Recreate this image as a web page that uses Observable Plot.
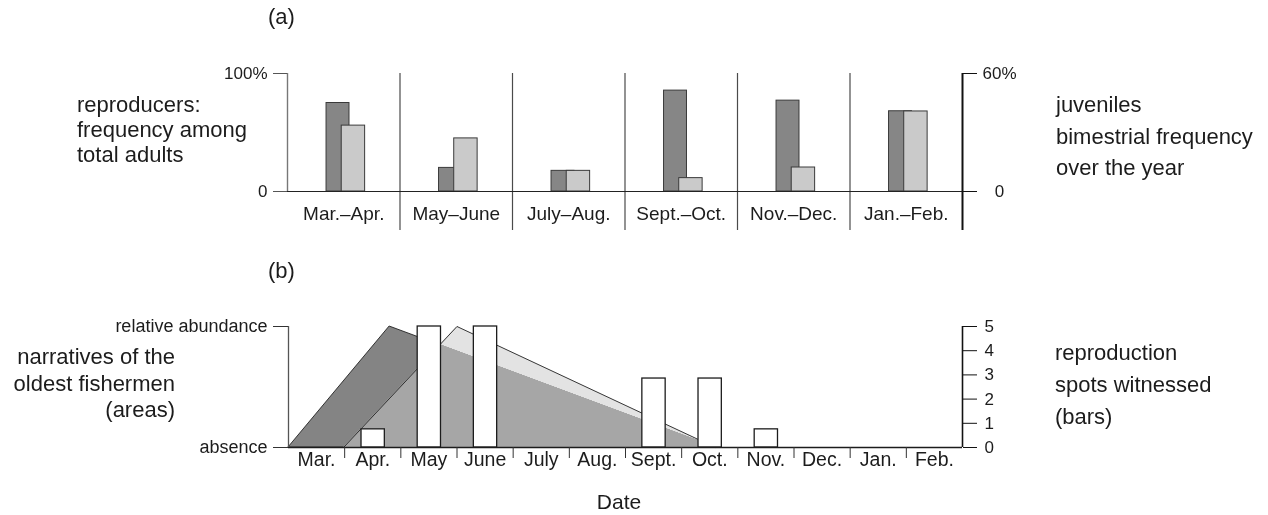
<!DOCTYPE html>
<html>
<head>
<meta charset="utf-8">
<script src="https://cdn.jsdelivr.net/npm/d3@7"></script>
<script src="https://cdn.jsdelivr.net/npm/@observablehq/plot@0.6"></script>
<style>
  html, body { margin: 0; padding: 0; background: #fff; }
  #fig { position: relative; width: 1268px; height: 515px; overflow: hidden;
         font-family: "Liberation Sans", Arial, Helvetica, sans-serif; color: #1c1c1c; }
  #fig svg { position: absolute; left: 0; overflow: visible; }
  .lbl { position: absolute; white-space: nowrap; font-size: 22px; }
</style>
</head>
<body>
<div id="fig">
  <div class="lbl" style="left:268px; top:6px; line-height:22px;">(a)</div>
  <div class="lbl" style="left:77px; top:92px; line-height:25px;">reproducers:<br>frequency among<br>total adults</div>
  <div class="lbl" style="left:1056px; top:89px; line-height:31.5px;">juveniles<br>bimestrial frequency<br>over the year</div>

  <div class="lbl" style="left:268px; top:260px; line-height:22px;">(b)</div>
  <div class="lbl" style="right:1093px; top:344px; line-height:26.5px; text-align:right;">narratives of the<br>oldest fishermen<br>(areas)</div>
  <div class="lbl" style="left:1055px; top:337px; line-height:32px;">reproduction<br>spots witnessed<br>(bars)</div>

  <div class="lbl" style="left:619px; top:491px; line-height:21px; font-size:21px; transform:translateX(-50%);">Date</div>
</div>

<script>
// ---- Panel (a): two-month periods ----
const periods = ["Mar.–Apr.", "May–June", "July–Aug.", "Sept.–Oct.", "Nov.–Dec.", "Jan.–Feb."];
// reproducers, % of total adults (left axis, 0–100%)
const reproducers = [75, 20, 17.5, 85.5, 77, 68];
// juveniles, bimestrial % over the year (right axis, 0–60%)
const juveniles = [33.5, 27, 10.5, 6.8, 12.2, 40.7];
const leftTicksA = [0, 100];
const leftTickLabelsA = ["0", "100%"];
const rightTicksA = [0, 60];
const rightTickLabelsA = ["0", "60%"];

// ---- Panel (b): months ----
const months = ["Mar.", "Apr.", "May", "June", "July", "Aug.", "Sept.", "Oct.", "Nov.", "Dec.", "Jan.", "Feb."];
// reproduction spots witnessed per month (bars)
const spots = [0, 0.75, 5, 5, 0, 0, 2.85, 2.85, 0.75, 0, 0, 0];
// fishermen narratives: time in months since 1 March, relative abundance (0 = absence, 1 = relative abundance)
const narrativeEarlyT = [0, 1.8, 7.6];
const narrativeEarlyA = [0, 1, 0];
const narrativeLateT = [0.98, 3.0, 7.6];
const narrativeLateA = [0, 1, 0];
const abundanceTicks = [0, 1];
const abundanceTickLabels = ["absence", "relative abundance"];
const spotTicks = [0, 1, 2, 3, 4, 5];

const font = `"Liberation Sans", Arial, Helvetica, sans-serif`;
const fig = document.getElementById("fig");

// ---------- panel (a) ----------
const juvToLeft = 100 / rightTicksA[1];          // juvenile % drawn on the left 0–100 scale
const dataA = periods.map((p, i) => ({p, i, r: reproducers[i], j: juveniles[i] * juvToLeft}));

const plotA = Plot.plot({
  width: 1268, height: 240,
  marginLeft: 287, marginRight: 306, marginTop: 73, marginBottom: 10,
  x: {domain: [0, periods.length], axis: null},
  y: {domain: [0, 100], range: [191, 73], axis: null},
  style: {fontFamily: font, fontSize: "17px", color: "#1c1c1c", background: "transparent"},
  marks: [
    // period separators
    Plot.ruleX(d3.range(1, periods.length), {stroke: "#4a4a4a", strokeWidth: 1.2}),
    // reproducers (dark) then juveniles (light), slightly overlapping
    Plot.rectY(dataA, {x1: d => d.i + 0.347, x2: d => d.i + 0.551, y1: 0, y2: "r",
      fill: "#868686", stroke: "#3a3a3a", strokeWidth: 1}),
    Plot.rectY(dataA, {x1: d => d.i + 0.482, x2: d => d.i + 0.69, y1: 0, y2: "j",
      fill: "#cacaca", stroke: "#3a3a3a", strokeWidth: 1}),
    // baseline
    Plot.ruleY([0], {stroke: "#222", strokeWidth: 1.2}),
    // left axis
    Plot.ruleX([0], {y1: 0, y2: 100, stroke: "#777", strokeWidth: 1.4}),
    Plot.axisY({anchor: "left", label: null, ticks: leftTicksA, tickSize: 14, tickPadding: 6, stroke: "#555",
      fontSize: 17, tickFormat: d => leftTickLabelsA[leftTicksA.indexOf(d)]}),
    // right axis
    Plot.ruleX([periods.length], {stroke: "#111", strokeWidth: 2}),
    Plot.axisY({anchor: "right", label: null, ticks: rightTicksA.map(v => v * juvToLeft), tickSize: 14, tickPadding: 23,
      textAnchor: "middle", stroke: "#111", fontSize: 17,
      tickFormat: d => rightTickLabelsA[rightTicksA.indexOf(Math.round(d / juvToLeft))]}),
    // period labels
    Plot.text(dataA, {x: d => d.i + 0.5, y: () => 0, dy: 22, text: "p", fontSize: 19, fill: "#1c1c1c"})
  ]
});
plotA.style.top = "0px";
fig.appendChild(plotA);

// ---------- panel (b) ----------
const spotMax = spotTicks[spotTicks.length - 1];  // "relative abundance" sits level with the top bar tick
const early = narrativeEarlyT.map((t, k) => ({t, v: narrativeEarlyA[k] * spotMax}));
const late = narrativeLateT.map((t, k) => ({t, v: narrativeLateA[k] * spotMax}));
const monthData = months.map((m, i) => ({m, i, s: spots[i]}));

const plotB = Plot.plot({
  width: 1268, height: 230,
  marginLeft: 288, marginRight: 306, marginTop: 76, marginBottom: 33,
  x: {domain: [0, months.length], axis: null},
  y: {domain: [0, spotMax], axis: null},
  style: {fontFamily: font, fontSize: "17px", color: "#1c1c1c", background: "transparent"},
  marks: [
    // later narrative, light where alone
    Plot.areaY(late, {x: "t", y1: 0, y2: "v", fill: "#e3e3e3"}),
    // earlier narrative, dark
    Plot.areaY(early, {x: "t", y1: 0, y2: "v", fill: "#848484", stroke: "#222", strokeWidth: 0.9}),
    // overlap of both narratives rendered mid-grey
    Plot.areaY(late, {x: "t", y1: 0, y2: "v", fill: "#a6a6a6", mixBlendMode: "lighten"}),
    Plot.line(late, {x: "t", y: "v", stroke: "#222", strokeWidth: 0.9}),
    // reproduction spots witnessed
    Plot.rectY(monthData.filter(d => d.s > 0), {x1: d => d.i + 0.3, x2: d => d.i + 0.715, y1: 0, y2: "s",
      fill: "#fff", stroke: "#1c1c1c", strokeWidth: 1.3}),
    // baseline and month ticks
    Plot.ruleY([0], {stroke: "#1c1c1c", strokeWidth: 1.3}),
    Plot.axisX({ticks: d3.range(1, months.length), label: null, tickSize: 11, stroke: "#333", tickFormat: () => ""}),
    // left axis
    Plot.ruleX([0], {y1: 0, y2: spotMax, stroke: "#555", strokeWidth: 1.3}),
    Plot.axisY({anchor: "left", label: null, ticks: abundanceTicks.map(a => a * spotMax), tickSize: 15, tickPadding: 6,
      stroke: "#333", fontSize: 18,
      tickFormat: d => abundanceTickLabels[abundanceTicks.indexOf(d / spotMax)]}),
    // right axis
    Plot.ruleX([months.length], {y1: 0, y2: spotMax, stroke: "#111", strokeWidth: 1.6}),
    Plot.axisY({anchor: "right", label: null, ticks: spotTicks, tickSize: 14, tickPadding: 8, stroke: "#111",
      fontSize: 17, tickFormat: d => String(d)}),
    // month labels
    Plot.text(monthData, {x: d => d.i + 0.5, frameAnchor: "bottom", dy: 18, text: "m", fontSize: 19.5, fill: "#1c1c1c"})
  ]
});
plotB.style.top = "250px";
fig.appendChild(plotB);
</script>
</body>
</html>
